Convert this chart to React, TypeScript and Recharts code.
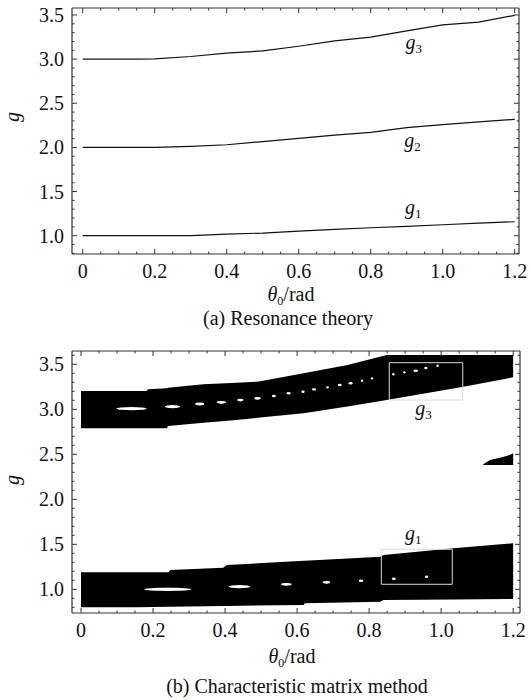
import React from 'react';
import { ComposedChart, Line, Area, XAxis, YAxis, ReferenceArea, ReferenceDot } from 'recharts';

const FONT = '"Liberation Serif", "Times New Roman", serif';

// ---- (a) Resonance theory ----
const thetaA = [0, 0.1, 0.15, 0.2, 0.3, 0.4, 0.5, 0.6, 0.7, 0.8, 0.9, 1.0, 1.1, 1.2];
const g1A = [1.0, 1.0, 1.0, 1.0, 1.0, 1.019, 1.03, 1.053, 1.072, 1.09, 1.105, 1.124, 1.143, 1.158];
const g2A = [2.0, 2.0, 2.0, 2.0, 2.013, 2.03, 2.066, 2.103, 2.14, 2.171, 2.224, 2.258, 2.29, 2.318];
const g3A = [3.0, 3.0, 3.0, 3.003, 3.03, 3.067, 3.093, 3.146, 3.206, 3.25, 3.32, 3.387, 3.42, 3.496];

const labelThetaA = [0.895, 0.893, 0.897];
const labelGA = [1.25, 2.01, 3.11];
const labelSubA = ['1', '2', '3'];

// ---- (b) Characteristic matrix method: black regions ----
const thetaLow = [0, 0.155, 0.243, 0.248, 0.395, 0.405, 0.618, 0.622, 0.831, 0.84, 1.034, 1.2];
const lowMin = [0.8, 0.8, 0.806, 0.806, 0.815, 0.816, 0.826, 0.844, 0.862, 0.881, 0.886, 0.892];
const lowMax = [1.189, 1.189, 1.189, 1.214, 1.24, 1.27, 1.318, 1.318, 1.362, 1.381, 1.456, 1.511];

const thetaUp = [0, 0.182, 0.186, 0.238, 0.242, 0.34, 0.432, 0.49, 0.618, 0.74, 0.849, 1.062, 1.2];
const upMin = [2.789, 2.789, 2.789, 2.789, 2.814, 2.85, 2.881, 2.905, 2.956, 3.03, 3.103, 3.251, 3.356];
const upMax = [3.203, 3.203, 3.222, 3.235, 3.24, 3.278, 3.295, 3.307, 3.4, 3.492, 3.603, 3.603, 3.603];

const thetaBlob = [1.117, 1.136, 1.16, 1.182, 1.195, 1.2];
const blobMin = [2.381, 2.381, 2.381, 2.381, 2.381, 2.381];
const blobMax = [2.39, 2.437, 2.46, 2.481, 2.5, 2.511];

// white holes inside the bands: theta from / theta to / g
const upHoleFrom = [0.099, 0.233, 0.317, 0.377, 0.434, 0.481, 0.53, 0.571, 0.612, 0.641, 0.681, 0.713, 0.743, 0.778, 0.807, 0.866, 0.895, 0.923, 0.953, 0.988];
const upHoleTo = [0.182, 0.275, 0.342, 0.403, 0.451, 0.499, 0.541, 0.582, 0.621, 0.653, 0.688, 0.724, 0.754, 0.783, 0.809, 0.869, 0.901, 0.936, 0.962, 0.992];
const upHoleG = [3.007, 3.029, 3.059, 3.078, 3.103, 3.122, 3.148, 3.178, 3.196, 3.222, 3.244, 3.27, 3.289, 3.318, 3.344, 3.389, 3.411, 3.429, 3.459, 3.484];

const lowHoleFrom = [0.175, 0.41, 0.555, 0.671, 0.771, 0.863, 0.955];
const lowHoleTo = [0.307, 0.47, 0.585, 0.692, 0.784, 0.874, 0.964];
const lowHoleG = [1.0, 1.029, 1.056, 1.078, 1.096, 1.118, 1.14];

// zoom boxes
const boxTheta0 = [0.856, 0.834];
const boxTheta1 = [1.06, 1.031];
const boxG0 = [3.103, 1.056];
const boxG1 = [3.518, 1.445];

const labelThetaB = [0.9, 0.928];
const labelGB = [1.548, 2.94];
const labelSubB = ['1', '3'];

// ticks
const xTicks = [0, 0.05, 0.1, 0.15, 0.2, 0.25, 0.3, 0.35, 0.4, 0.45, 0.5, 0.55, 0.6, 0.65, 0.7, 0.75, 0.8, 0.85, 0.9, 0.95, 1.0, 1.05, 1.1, 1.15, 1.2];
const yTicksA = [0.8, 0.9, 1.0, 1.1, 1.2, 1.3, 1.4, 1.5, 1.6, 1.7, 1.8, 1.9, 2.0, 2.1, 2.2, 2.3, 2.4, 2.5, 2.6, 2.7, 2.8, 2.9, 3.0, 3.1, 3.2, 3.3, 3.4, 3.5];
const yTicksB = [0.8, 0.9, 1.0, 1.1, 1.2, 1.3, 1.4, 1.5, 1.6, 1.7, 1.8, 1.9, 2.0, 2.1, 2.2, 2.3, 2.4, 2.5, 2.6, 2.7, 2.8, 2.9, 3.0, 3.1, 3.2, 3.3, 3.4, 3.5, 3.6];

const theoryData = thetaA.map((t, i) => ({ theta: t, g1: g1A[i], g2: g2A[i], g3: g3A[i] }));
const lowBand = thetaLow.map((t, i) => ({ theta: t, band: [lowMin[i], lowMax[i]], lo: lowMin[i] }));
const upBand = thetaUp.map((t, i) => ({ theta: t, band: [upMin[i], upMax[i]] }));
const blobBand = thetaBlob.map((t, i) => ({ theta: t, band: [blobMin[i], blobMax[i]] }));

type Side = 'bottom' | 'top' | 'left' | 'right';

function axisTick(side: Side, majorStep: number, labels: boolean) {
  return (props: any) => {
    const { x, y, payload } = props;
    const v = Number(payload.value);
    const major = Math.abs(v / majorStep - Math.round(v / majorStep)) < 1e-6;
    const len = major ? 5 : 2.5;
    const dx = side === 'left' ? len : side === 'right' ? -len : 0;
    const dy = side === 'bottom' ? -len : side === 'top' ? len : 0;
    let text = null;
    if (labels && major) {
      const str = v === 0 ? '0' : v.toFixed(1);
      text =
        side === 'bottom' ? (
          <text x={x} y={y + 24} textAnchor="middle" fontFamily={FONT} fontSize={20} fill="#111">
            {str}
          </text>
        ) : (
          <text x={x - 8} y={y + 7} textAnchor="end" fontFamily={FONT} fontSize={20} fill="#111">
            {str}
          </text>
        );
    }
    return (
      <g>
        <line x1={x} y1={y} x2={x + dx} y2={y + dy} stroke="#333" strokeWidth={1} />
        {text}
      </g>
    );
  };
}

const gLabel = (sub: string) => (p: any) => (
  <text x={p.cx} y={p.cy} fontFamily={FONT} fontSize={20} fill="#111">
    <tspan fontStyle="italic">g</tspan>
    <tspan fontSize={13} dy={4}>{sub}</tspan>
  </text>
);

const hole = (p: any) => {
  const rx = Math.max(p.width / 2, 1.2);
  const ry = rx > 6 ? 1.6 : rx > 3 ? 1.4 : 1.2;
  return <ellipse cx={p.x + p.width / 2} cy={p.y + p.height / 2} rx={rx} ry={ry} fill="#fff" />;
};

const axisLine = { stroke: '#333', strokeWidth: 1.2 };

function Frame(xDomain: number[], yDomain: number[], yTicks: number[]) {
  return [
    <XAxis key="xb" dataKey="theta" type="number" domain={xDomain} allowDataOverflow ticks={xTicks} interval={0}
      height={1} tickSize={0} tickMargin={0} tickLine={false} axisLine={axisLine} tick={axisTick('bottom', 0.2, true)} />,
    <XAxis key="xt" xAxisId="top" dataKey="theta" orientation="top" type="number" domain={xDomain} allowDataOverflow ticks={xTicks} interval={0}
      height={1} tickSize={0} tickMargin={0} tickLine={false} axisLine={axisLine} tick={axisTick('top', 0.2, false)} />,
    <YAxis key="yl" type="number" domain={yDomain} allowDataOverflow ticks={yTicks} interval={0}
      width={1} tickSize={0} tickMargin={0} tickLine={false} axisLine={axisLine} tick={axisTick('left', 0.5, true)} />,
    <YAxis key="yr" yAxisId="right" orientation="right" type="number" domain={yDomain} allowDataOverflow ticks={yTicks} interval={0}
      width={1} tickSize={0} tickMargin={0} tickLine={false} axisLine={axisLine} tick={axisTick('right', 0.5, false)} />,
  ];
}

function TheoryChart() {
  return (
    <ComposedChart width={531} height={300} data={theoryData} margin={{ top: 7, right: 11, bottom: 45, left: 71 }}>
      {Frame([-0.0297, 1.212], [0.793, 3.579], yTicksA)}
      <Line dataKey="g1" type="linear" stroke="#111" strokeWidth={1.2} dot={false} isAnimationActive={false} />
      <Line dataKey="g2" type="linear" stroke="#111" strokeWidth={1.2} dot={false} isAnimationActive={false} />
      <Line dataKey="g3" type="linear" stroke="#111" strokeWidth={1.2} dot={false} isAnimationActive={false} />
      {/* invisible series so the top and right frame axes get their scales */}
      <Line xAxisId="top" yAxisId="right" dataKey="g1" stroke="none" dot={false} activeDot={false} isAnimationActive={false} />
      {labelThetaA.map((t, i) => (
        <ReferenceDot key={'la' + i} x={t} y={labelGA[i]} r={0} shape={gLabel(labelSubA[i])} zIndex={2000} />
      ))}
    </ComposedChart>
  );
}

function MatrixChart() {
  return (
    <ComposedChart width={531} height={330} margin={{ top: 15, right: 10, bottom: 51, left: 71 }}>
      {Frame([-0.025, 1.219], [0.737, 3.648], yTicksB)}
      <Area data={lowBand} dataKey="band" type="linear" stroke="none" fill="#000" fillOpacity={1} dot={false} activeDot={false} isAnimationActive={false} />
      <Area data={upBand} dataKey="band" type="linear" stroke="none" fill="#000" fillOpacity={1} dot={false} activeDot={false} isAnimationActive={false} />
      <Area data={blobBand} dataKey="band" type="linear" stroke="none" fill="#000" fillOpacity={1} dot={false} activeDot={false} isAnimationActive={false} />
      <Line data={lowBand} xAxisId="top" yAxisId="right" dataKey="lo" stroke="none" dot={false} activeDot={false} isAnimationActive={false} />
      {upHoleFrom.map((t, i) => (
        <ReferenceArea key={'uh' + i} x1={t} x2={upHoleTo[i]} y1={upHoleG[i] - 0.005} y2={upHoleG[i] + 0.005} shape={hole} zIndex={700} />
      ))}
      {lowHoleFrom.map((t, i) => (
        <ReferenceArea key={'lh' + i} x1={t} x2={lowHoleTo[i]} y1={lowHoleG[i] - 0.005} y2={lowHoleG[i] + 0.005} shape={hole} zIndex={700} />
      ))}
      {boxTheta0.map((t, i) => (
        <ReferenceArea key={'bx' + i} x1={t} x2={boxTheta1[i]} y1={boxG0[i]} y2={boxG1[i]} fill="none" fillOpacity={0} stroke="#d8d8d8" strokeWidth={1} zIndex={700} />
      ))}
      {labelThetaB.map((t, i) => (
        <ReferenceDot key={'lb' + i} x={t} y={labelGB[i]} r={0} shape={gLabel(labelSubB[i])} zIndex={2000} />
      ))}
    </ComposedChart>
  );
}

export default function App() {
  const txt = { fontFamily: FONT, fontSize: 20, fill: '#111' } as const;
  return (
    <div style={{ position: 'absolute', left: 0, top: 0, width: 531, height: 700, background: '#fff' }}>
      <div style={{ position: 'absolute', left: 0, top: 0 }}>
        <TheoryChart />
      </div>
      <div style={{ position: 'absolute', left: 0, top: 335 }}>
        <MatrixChart />
      </div>
      <svg width={531} height={700} style={{ position: 'absolute', left: 0, top: 0, pointerEvents: 'none' }}>
        <text {...txt} fontStyle="italic" textAnchor="middle" transform="translate(19,117) rotate(-90)">g</text>
        <text {...txt} fontStyle="italic" textAnchor="middle" transform="translate(19,480) rotate(-90)">g</text>
        <text {...txt} x={291} y={301} textAnchor="middle">
          <tspan fontStyle="italic">θ</tspan>
          <tspan fontSize={12} dy={4}>0</tspan>
          <tspan dy={-4}>/rad</tspan>
        </text>
        <text {...txt} x={288} y={325} textAnchor="middle">(a) Resonance theory</text>
        <text {...txt} x={292} y={663} textAnchor="middle">
          <tspan fontStyle="italic">θ</tspan>
          <tspan fontSize={12} dy={4}>0</tspan>
          <tspan dy={-4}>/rad</tspan>
        </text>
        <text {...txt} x={297} y={693} textAnchor="middle">(b) Characteristic matrix method</text>
      </svg>
    </div>
  );
}
